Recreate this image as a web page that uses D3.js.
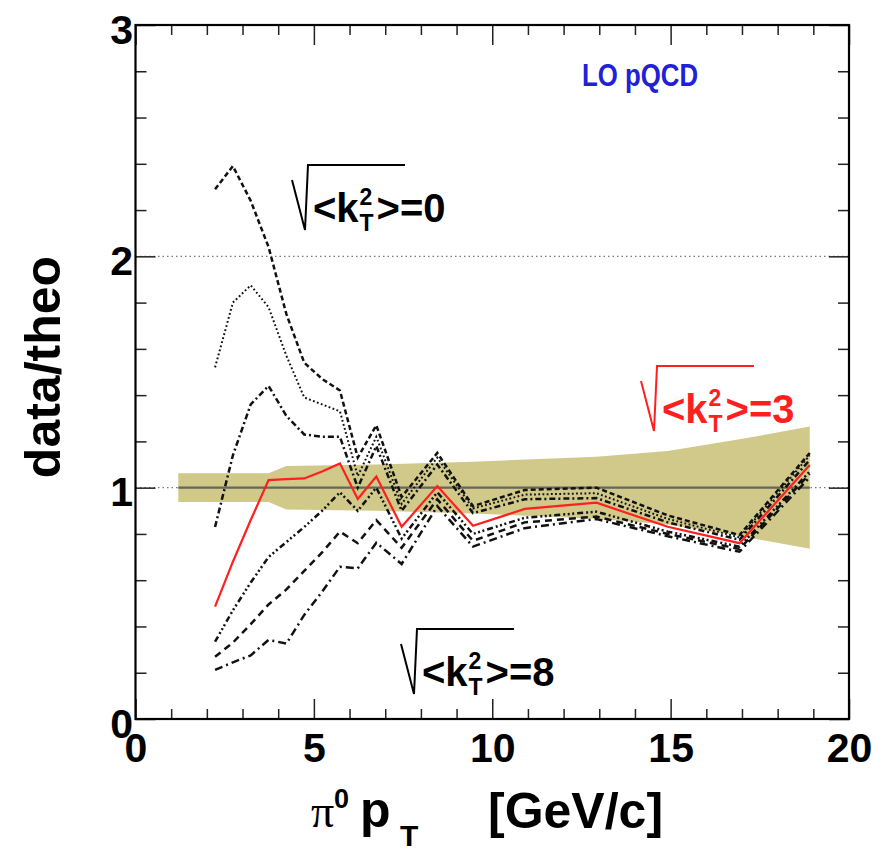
<!DOCTYPE html>
<html>
<head>
<meta charset="utf-8">
<script src="https://cdn.jsdelivr.net/npm/d3@7"></script>
<style>
  body { margin: 0; background: #fff; }
</style>
</head>
<body>
<svg id="chart" width="874" height="854"></svg>
<script>
// pi0 pT bin centres [GeV/c]
const ptBins = [2.23, 2.73, 3.23, 3.73, 4.23, 4.73, 5.23, 5.73, 6.23, 6.75, 7.46, 8.46, 9.46, 10.91, 12.92, 14.92, 16.93, 18.9];

// data / LO pQCD ratios for several intrinsic-kT smearings
const ratioKt0 = [2.29, 2.39, 2.24, 2.04, 1.75, 1.54, 1.47, 1.42, 1.13, 1.27, 0.96, 1.15, 0.92, 0.99, 1.00, 0.88, 0.795, 1.15];
const ratioKt1 = [1.52, 1.80, 1.875, 1.78, 1.57, 1.39, 1.36, 1.33, 1.05, 1.22, 0.93, 1.13, 0.91, 0.97, 0.976, 0.865, 0.785, 1.14];
const ratioKt2 = [0.83, 1.14, 1.36, 1.44, 1.31, 1.23, 1.22, 1.22, 1.00, 1.18, 0.90, 1.10, 0.89, 0.95, 0.955, 0.85, 0.775, 1.12];
const ratioKt3 = [0.486, 0.68, 0.86, 1.033, 1.037, 1.04, 1.07, 1.105, 0.951, 1.048, 0.831, 1.007, 0.835, 0.908, 0.935, 0.831, 0.76, 1.098];
const ratioKt5 = [0.334, 0.47, 0.59, 0.70, 0.765, 0.83, 0.90, 0.98, 0.90, 1.00, 0.78, 0.98, 0.80, 0.87, 0.896, 0.81, 0.745, 1.07];
const ratioKt6 = [0.269, 0.33, 0.41, 0.495, 0.56, 0.64, 0.72, 0.81, 0.76, 0.86, 0.74, 0.95, 0.77, 0.85, 0.875, 0.80, 0.735, 1.06];
const ratioKt8 = [0.212, 0.245, 0.275, 0.342, 0.326, 0.45, 0.55, 0.658, 0.651, 0.762, 0.67, 0.92, 0.745, 0.825, 0.864, 0.79, 0.723, 1.045];

// systematic uncertainty band around unity
const bandPt = [1.2, 3.73, 4.23, 6.75, 9.46, 12.92, 14.92, 16.93, 18.9];
const bandHi = [1.062, 1.062, 1.094, 1.100, 1.112, 1.134, 1.159, 1.209, 1.264];
const bandLo = [0.938, 0.938, 0.906, 0.900, 0.888, 0.866, 0.841, 0.791, 0.736];

// axis ticks
const xMajorTicks = [0, 5, 10, 15, 20];
const yMajorTicks = [0, 1, 2, 3];
const gridLevels = [1, 2];

// line styles for the black curves
const blackCurves = [
  { values: ratioKt0, dash: "5,3", width: 2.5 },
  { values: ratioKt1, dash: "1.8,2.4", width: 2 },
  { values: ratioKt2, dash: "6,3,2,3", width: 2.5 },
  { values: ratioKt5, dash: "6,3,2,2.5,2,2.5,2,3", width: 2.5 },
  { values: ratioKt6, dash: "7,5", width: 2.5 },
  { values: ratioKt8, dash: "8,4,2,4", width: 2.5 }
];

const FONT = "'Liberation Sans', Arial, Helvetica, sans-serif";

const svg = d3.select("#chart");
const x = d3.scaleLinear().domain([0, 20]).range([135.5, 849]);
const y = d3.scaleLinear().domain([0, 3]).range([719, 25]);

const xMinor = d3.range(0, 21, 1).filter(v => v % 5 !== 0);
const yMinor = d3.range(0, 3.001, 0.2).filter(v => Math.abs(v - Math.round(v)) > 1e-6);

// uncertainty band
const band = bandPt.map((p, i) => ({ p, hi: bandHi[i], lo: bandLo[i] }));
svg.append("path")
  .datum(band)
  .attr("fill", "#d0c98a")
  .attr("d", d3.area().x(d => x(d.p)).y0(d => y(d.lo)).y1(d => y(d.hi)));

// dotted reference lines
gridLevels.forEach(v => {
  svg.append("line")
    .attr("x1", x(0)).attr("x2", x(20))
    .attr("y1", y(v)).attr("y2", y(v))
    .attr("stroke", "#777").attr("stroke-width", 1.2)
    .attr("stroke-dasharray", "1.5,3");
});

// unity line across the band
svg.append("line")
  .attr("x1", x(bandPt[0])).attr("x2", x(bandPt[bandPt.length - 1]))
  .attr("y1", y(1)).attr("y2", y(1))
  .attr("stroke", "#66665a").attr("stroke-width", 2.2);

// curves
const line = d3.line().x((d, i) => x(ptBins[i])).y(d => y(d));
blackCurves.forEach(c => {
  svg.append("path")
    .datum(c.values)
    .attr("fill", "none")
    .attr("stroke", "#111")
    .attr("stroke-width", c.width)
    .attr("stroke-dasharray", c.dash)
    .attr("d", line);
});
svg.append("path")
  .datum(ratioKt3)
  .attr("fill", "none")
  .attr("stroke", "#ff1f1f")
  .attr("stroke-width", 2.2)
  .attr("d", line);

// axes: inward ticks on all four sides
function styleAxis(g) {
  g.select(".domain").remove();
  g.selectAll(".tick line").attr("stroke", "#222").attr("stroke-width", 1.5);
  g.attr("font-family", FONT).attr("font-weight", "bold").attr("font-size", 41);
  g.selectAll(".tick text").attr("fill", "#000");
}

svg.append("g").attr("transform", `translate(0,${y(0)})`)
  .call(d3.axisBottom(x).tickValues(xMajorTicks).tickSizeInner(-20).tickSizeOuter(0).tickPadding(14).tickFormat(d3.format("d")))
  .call(styleAxis);
svg.append("g").attr("transform", `translate(0,${y(0)})`)
  .call(d3.axisBottom(x).tickValues(xMinor).tickSizeInner(-10).tickSizeOuter(0).tickFormat(""))
  .call(styleAxis);
svg.append("g").attr("transform", `translate(0,${y(3)})`)
  .call(d3.axisTop(x).tickValues(xMajorTicks).tickSizeInner(-20).tickSizeOuter(0).tickFormat(""))
  .call(styleAxis);
svg.append("g").attr("transform", `translate(0,${y(3)})`)
  .call(d3.axisTop(x).tickValues(xMinor).tickSizeInner(-10).tickSizeOuter(0).tickFormat(""))
  .call(styleAxis);

svg.append("g").attr("transform", `translate(${x(0)},0)`)
  .call(d3.axisLeft(y).tickValues(yMajorTicks).tickSizeInner(-20).tickSizeOuter(0).tickPadding(2.5).tickFormat(d3.format("d")))
  .call(styleAxis)
  .call(g => g.selectAll(".tick text").attr("dy", "0.44em"));
svg.append("g").attr("transform", `translate(${x(0)},0)`)
  .call(d3.axisLeft(y).tickValues(yMinor).tickSizeInner(-11).tickSizeOuter(0).tickFormat(""))
  .call(styleAxis);
svg.append("g").attr("transform", `translate(${x(20)},0)`)
  .call(d3.axisRight(y).tickValues(yMajorTicks).tickSizeInner(-20).tickSizeOuter(0).tickFormat(""))
  .call(styleAxis);
svg.append("g").attr("transform", `translate(${x(20)},0)`)
  .call(d3.axisRight(y).tickValues(yMinor).tickSizeInner(-11).tickSizeOuter(0).tickFormat(""))
  .call(styleAxis);

// frame
svg.append("rect")
  .attr("x", x(0)).attr("y", y(3))
  .attr("width", x(20) - x(0)).attr("height", y(0) - y(3))
  .attr("fill", "none").attr("stroke", "#000").attr("stroke-width", 2.2);

// axis titles
const xt = svg.append("g").attr("font-weight", "bold").attr("fill", "#000");
xt.append("text").attr("x", 311).attr("y", 827)
  .attr("font-family", "'Liberation Serif', 'Times New Roman', serif").attr("font-weight", "normal")
  .attr("font-size", 46).text("π");
xt.append("text").attr("x", 334).attr("y", 808).attr("font-family", FONT).attr("font-size", 27).text("0");
xt.append("text").attr("x", 360).attr("y", 827).attr("font-family", FONT).attr("font-size", 50).text("p");
xt.append("text").attr("x", 400).attr("y", 846).attr("font-family", FONT).attr("font-size", 30).text("T");
xt.append("text").attr("x", 488).attr("y", 828).attr("font-family", FONT).attr("font-size", 50).text("[GeV/c]");

svg.append("text")
  .attr("transform", "translate(60,367) rotate(-90)")
  .attr("text-anchor", "middle")
  .attr("font-family", FONT).attr("font-weight", "bold").attr("font-size", 50)
  .attr("fill", "#000")
  .text("data/theo");

svg.append("text")
  .attr("x", 582).attr("y", 86)
  .attr("font-family", FONT).attr("font-weight", "bold").attr("font-size", 32)
  .attr("textLength", 116).attr("lengthAdjust", "spacingAndGlyphs")
  .attr("fill", "#2020d8")
  .text("LO pQCD");

// sqrt(<kT^2>) = value labels
function ktLabel(x0, y0, value, color) {
  const g = svg.append("g").attr("fill", color).attr("font-family", FONT).attr("font-weight", "bold");
  const t1 = g.append("text").attr("x", x0).attr("y", y0).attr("font-size", 40).text("<k");
  const xs = x0 + t1.node().getComputedTextLength() + 1;
  g.append("text").attr("x", xs).attr("y", y0 - 17).attr("font-size", 23).text("2");
  g.append("text").attr("x", xs).attr("y", y0 + 9).attr("font-size", 23).text("T");
  const xg = xs + 17;
  const t2 = g.append("text").attr("x", xg).attr("y", y0).attr("font-size", 40).text(">");
  const xe = xg + t2.node().getComputedTextLength();
  g.append("text").attr("x", xe).attr("y", y0).attr("font-size", 40).text("=" + value);
  g.append("path")
    .attr("d", `M${x0 - 21},${y0 - 42} L${x0 - 8},${y0 + 8} L${x0 - 5},${y0 - 57} L${xe + 5},${y0 - 57}`)
    .attr("fill", "none").attr("stroke", color).attr("stroke-width", 2);
}
ktLabel(313, 222, "0", "#000");
ktLabel(662, 423, "3", "#ff1f1f");
ktLabel(422, 686, "8", "#000");
</script>
</body>
</html>
